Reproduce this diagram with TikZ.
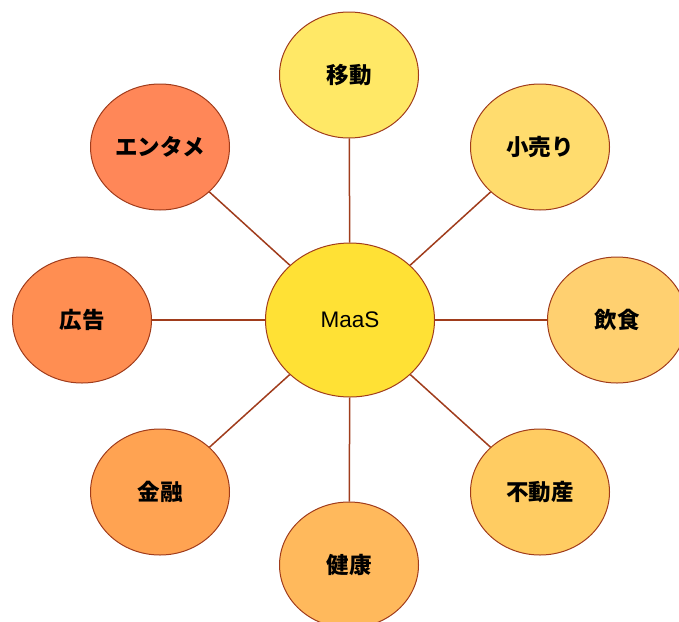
\documentclass[tikz,border=0pt]{standalone}
\usepackage{fontspec}
\setmainfont{Liberation Sans}
\newfontfamily\cjk{Noto Sans CJK JP}
\usetikzlibrary{shapes.geometric}
\definecolor{edgebrown}{HTML}{A03C1C}
\definecolor{cMaaS}{HTML}{FFE135}
\definecolor{cIdo}{HTML}{FFE866}
\definecolor{cKouri}{HTML}{FFDC6E}
\definecolor{cInsyoku}{HTML}{FFD070}
\definecolor{cFudousan}{HTML}{FFCC62}
\definecolor{cKenkou}{HTML}{FFB95C}
\definecolor{cKinyu}{HTML}{FFA352}
\definecolor{cKoukoku}{HTML}{FF8E52}
\definecolor{cEntame}{HTML}{FF8758}
\tikzset{
  bubble/.style={ellipse, draw=edgebrown, line width=1pt, inner sep=0pt,
    minimum width=139pt, minimum height=126pt, font=\cjk\fontsize{22.5}{22.5}\selectfont\bfseries},
  hub/.style={ellipse, draw=edgebrown, line width=1pt, inner sep=0pt, fill=cMaaS,
    minimum width=169pt, minimum height=154pt, font=\fontsize{22.5}{22.5}\selectfont},
  spoke/.style={draw=edgebrown, line width=1.5pt}
}
\begin{document}
\begin{tikzpicture}[x=1pt,y=-1pt]
\useasboundingbox (0,0) rectangle (679,621);
\clip (0,0) rectangle (679,621);
\node[hub] (maas) at (350,320) {MaaS};
\node[bubble, fill=cIdo] (ido) at (349,75) {移動};
\node[bubble, fill=cKouri] (kouri) at (540,147) {小売り};
\node[bubble, fill=cInsyoku] (insyoku) at (617,320) {飲食};
\node[bubble, fill=cFudousan] (fudousan) at (540,492) {不動産};
\node[bubble, fill=cKenkou] (kenkou) at (349,565) {健康};
\node[bubble, fill=cKinyu] (kinyu) at (160,492) {金融};
\node[bubble, fill=cKoukoku] (koukoku) at (82,320) {広告};
\node[bubble, fill=cEntame] (entame) at (160,147) {エンタメ};
\foreach \n in {ido,kouri,insyoku,fudousan,kenkou,kinyu,koukoku,entame}
  \draw[spoke] (maas) -- (\n);
\end{tikzpicture}
\end{document}
